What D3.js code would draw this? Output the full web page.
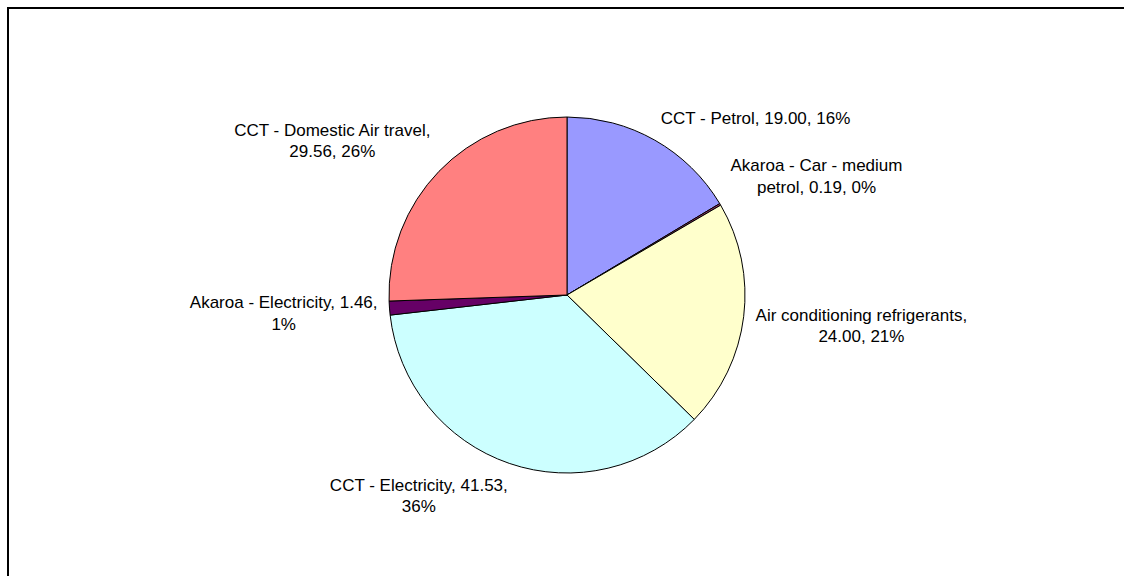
<!DOCTYPE html>
<html>
<head>
<meta charset="utf-8">
<script src="https://cdn.jsdelivr.net/npm/d3@7"></script>
<style>
	html, body { margin: 0; background: #fff; overflow: hidden; }
	svg { display: block; }
	.lbl { font-family: "Liberation Sans", Arial, sans-serif; font-size: 17px; fill: #000; }
</style>
</head>
<body>
<svg id="chart" width="1124" height="576"></svg>
<script>
"use strict";

/* global d3 */

// Data, clockwise from 12 o'clock
var categories = ['CCT - Petrol', 'Akaroa - Car - medium petrol', 'Air conditioning refrigerants',
	'CCT - Electricity', 'Akaroa - Electricity', 'CCT - Domestic Air travel'];
var values = [19.00, 0.19, 24.00, 41.53, 1.46, 29.56];
var colors = ['#9999FF', '#993366', '#FFFFCC', '#CCFFFF', '#660066', '#FF8080'];

// Geometry
var W = 1124, H = 576;
var cx = 567, cy = 295, R = 178;
var lblGap = 12, lineH = 21.5, maxLblW = 213.5;

var svg = d3.select('#chart');

// Chart area border (only top and left edges are in view)
svg.append('path').attr('d', 'M8,' + (H + 2) + 'V8H' + (W + 2)).
	style('fill', 'none').style('stroke', '#000').style('stroke-width', 2);

var total = d3.sum(values);
var pie = d3.pie().sort(null).value(function(d) { return d; });
var arcs = pie(values);
var arc = d3.arc().innerRadius(0).outerRadius(R);

var g = svg.append('g').attr('transform', 'translate(' + cx + ',' + cy + ')');

g.selectAll('path.slice').data(arcs).enter().append('path').attr('class', 'slice').
	attr('d', arc).
	style('fill', function(d, i) { return colors[i]; }).
	style('stroke', '#000').style('stroke-width', 1).style('stroke-linejoin', 'round');

// Word wrap a label into lines no wider than maxLblW
function wrapWords(text, measure) {
	var words = text.split(' ');
	var lines = [], cur = '';
	words.forEach(function(w) {
		var t = cur ? cur + ' ' + w : w;
		if (cur && measure(t) > maxLblW) {
			lines.push(cur);
			cur = w;
		} else
			cur = t;
	});
	lines.push(cur);
	return lines;
}

var probe = svg.append('text').attr('class', 'lbl');
function measure(s) {
	probe.text(s);
	return probe.node().getComputedTextLength();
}

function clamp(v) { return Math.max(-1, Math.min(1, v)); }

arcs.forEach(function(d, i) {
	var pct = Math.round(d.value / total * 100);
	var txt = categories[i] + ', ' + d3.format('.2f')(d.value) + ', ' + pct + '%';
	var lines = wrapWords(txt, measure);
	var w = d3.max(lines, measure);
	var h = lines.length * lineH;

	// Anchor point just outside the rim at the slice's mid angle
	var a = (d.startAngle + d.endAngle) / 2;
	var s = Math.sin(a), c = Math.cos(a);
	var px = (R + lblGap) * s, py = -(R + lblGap) * c;

	// Box pushed away from the pie
	var bx = px + clamp(3 * s) * w / 2;
	var by = py - clamp(3 * c) * h / 2;
	var top = by - h / 2;

	var t = g.append('text').attr('class', 'lbl').attr('text-anchor', 'middle');
	lines.forEach(function(ln, k) {
		t.append('tspan').attr('x', bx).attr('y', top + 16 + k * lineH).text(ln);
	});
});

probe.remove();

/* EOF */
</script>
</body>
</html>
